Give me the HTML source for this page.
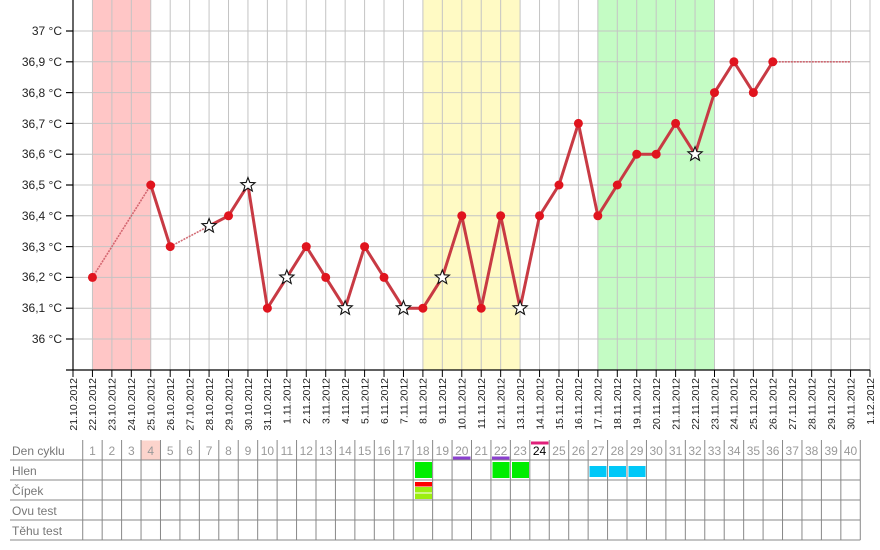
<!DOCTYPE html>
<html>
<head>
<meta charset="utf-8">
<style>
html,body{margin:0;padding:0;background:#fff;}
svg{display:block;}
text{font-family:"Liberation Sans",Arial,sans-serif;}
</style>
</head>
<body>
<svg width="880" height="550" viewBox="0 0 880 550" xmlns="http://www.w3.org/2000/svg">
<!-- bands -->
<rect x="92.44" y="0" width="58.32" height="370" fill="#ffc6c6"/>
<rect x="422.9" y="0" width="97.2" height="370" fill="#fffac4"/>
<rect x="597.85" y="0" width="116.64" height="370" fill="#c4fcc4"/>

<!-- vertical grid -->
<g stroke="#c4c4c4" stroke-width="1">
<line x1="92.44" y1="0" x2="92.44" y2="370"/>
<line x1="111.88" y1="0" x2="111.88" y2="370"/>
<line x1="131.32" y1="0" x2="131.32" y2="370"/>
<line x1="150.76" y1="0" x2="150.76" y2="370"/>
<line x1="170.2" y1="0" x2="170.2" y2="370"/>
<line x1="189.63" y1="0" x2="189.63" y2="370"/>
<line x1="209.07" y1="0" x2="209.07" y2="370"/>
<line x1="228.51" y1="0" x2="228.51" y2="370"/>
<line x1="247.95" y1="0" x2="247.95" y2="370"/>
<line x1="267.39" y1="0" x2="267.39" y2="370"/>
<line x1="286.83" y1="0" x2="286.83" y2="370"/>
<line x1="306.27" y1="0" x2="306.27" y2="370"/>
<line x1="325.71" y1="0" x2="325.71" y2="370"/>
<line x1="345.15" y1="0" x2="345.15" y2="370"/>
<line x1="364.59" y1="0" x2="364.59" y2="370"/>
<line x1="384.02" y1="0" x2="384.02" y2="370"/>
<line x1="403.46" y1="0" x2="403.46" y2="370"/>
<line x1="422.9" y1="0" x2="422.9" y2="370"/>
<line x1="442.34" y1="0" x2="442.34" y2="370"/>
<line x1="461.78" y1="0" x2="461.78" y2="370"/>
<line x1="481.22" y1="0" x2="481.22" y2="370"/>
<line x1="500.66" y1="0" x2="500.66" y2="370"/>
<line x1="520.1" y1="0" x2="520.1" y2="370"/>
<line x1="539.54" y1="0" x2="539.54" y2="370"/>
<line x1="558.98" y1="0" x2="558.98" y2="370"/>
<line x1="578.41" y1="0" x2="578.41" y2="370"/>
<line x1="597.85" y1="0" x2="597.85" y2="370"/>
<line x1="617.29" y1="0" x2="617.29" y2="370"/>
<line x1="636.73" y1="0" x2="636.73" y2="370"/>
<line x1="656.17" y1="0" x2="656.17" y2="370"/>
<line x1="675.61" y1="0" x2="675.61" y2="370"/>
<line x1="695.05" y1="0" x2="695.05" y2="370"/>
<line x1="714.49" y1="0" x2="714.49" y2="370"/>
<line x1="733.93" y1="0" x2="733.93" y2="370"/>
<line x1="753.37" y1="0" x2="753.37" y2="370"/>
<line x1="772.8" y1="0" x2="772.8" y2="370"/>
<line x1="792.24" y1="0" x2="792.24" y2="370"/>
<line x1="811.68" y1="0" x2="811.68" y2="370"/>
<line x1="831.12" y1="0" x2="831.12" y2="370"/>
<line x1="850.56" y1="0" x2="850.56" y2="370"/>
<line x1="870" y1="0" x2="870" y2="370"/>
</g>
<!-- horizontal grid -->
<g stroke="#c4c4c4" stroke-width="1">
<line x1="73" y1="31" x2="870" y2="31"/>
<line x1="73" y1="61.8" x2="870" y2="61.8"/>
<line x1="73" y1="92.6" x2="870" y2="92.6"/>
<line x1="73" y1="123.4" x2="870" y2="123.4"/>
<line x1="73" y1="154.2" x2="870" y2="154.2"/>
<line x1="73" y1="185" x2="870" y2="185"/>
<line x1="73" y1="215.8" x2="870" y2="215.8"/>
<line x1="73" y1="246.6" x2="870" y2="246.6"/>
<line x1="73" y1="277.4" x2="870" y2="277.4"/>
<line x1="73" y1="308.2" x2="870" y2="308.2"/>
<line x1="73" y1="339" x2="870" y2="339"/>
</g>

<!-- axes -->
<g stroke="#000" stroke-width="1.2">
<line x1="73" y1="0" x2="73" y2="370"/>
<line x1="66" y1="370" x2="870" y2="370"/>
<line x1="66" y1="31" x2="73" y2="31"/>
<line x1="66" y1="61.8" x2="73" y2="61.8"/>
<line x1="66" y1="92.6" x2="73" y2="92.6"/>
<line x1="66" y1="123.4" x2="73" y2="123.4"/>
<line x1="66" y1="154.2" x2="73" y2="154.2"/>
<line x1="66" y1="185" x2="73" y2="185"/>
<line x1="66" y1="215.8" x2="73" y2="215.8"/>
<line x1="66" y1="246.6" x2="73" y2="246.6"/>
<line x1="66" y1="277.4" x2="73" y2="277.4"/>
<line x1="66" y1="308.2" x2="73" y2="308.2"/>
<line x1="66" y1="339" x2="73" y2="339"/>
</g>
<g stroke="#000" stroke-width="1">
<line x1="73" y1="370" x2="73" y2="377"/>
<line x1="92.44" y1="370" x2="92.44" y2="377"/>
<line x1="111.88" y1="370" x2="111.88" y2="377"/>
<line x1="131.32" y1="370" x2="131.32" y2="377"/>
<line x1="150.76" y1="370" x2="150.76" y2="377"/>
<line x1="170.2" y1="370" x2="170.2" y2="377"/>
<line x1="189.63" y1="370" x2="189.63" y2="377"/>
<line x1="209.07" y1="370" x2="209.07" y2="377"/>
<line x1="228.51" y1="370" x2="228.51" y2="377"/>
<line x1="247.95" y1="370" x2="247.95" y2="377"/>
<line x1="267.39" y1="370" x2="267.39" y2="377"/>
<line x1="286.83" y1="370" x2="286.83" y2="377"/>
<line x1="306.27" y1="370" x2="306.27" y2="377"/>
<line x1="325.71" y1="370" x2="325.71" y2="377"/>
<line x1="345.15" y1="370" x2="345.15" y2="377"/>
<line x1="364.59" y1="370" x2="364.59" y2="377"/>
<line x1="384.02" y1="370" x2="384.02" y2="377"/>
<line x1="403.46" y1="370" x2="403.46" y2="377"/>
<line x1="422.9" y1="370" x2="422.9" y2="377"/>
<line x1="442.34" y1="370" x2="442.34" y2="377"/>
<line x1="461.78" y1="370" x2="461.78" y2="377"/>
<line x1="481.22" y1="370" x2="481.22" y2="377"/>
<line x1="500.66" y1="370" x2="500.66" y2="377"/>
<line x1="520.1" y1="370" x2="520.1" y2="377"/>
<line x1="539.54" y1="370" x2="539.54" y2="377"/>
<line x1="558.98" y1="370" x2="558.98" y2="377"/>
<line x1="578.41" y1="370" x2="578.41" y2="377"/>
<line x1="597.85" y1="370" x2="597.85" y2="377"/>
<line x1="617.29" y1="370" x2="617.29" y2="377"/>
<line x1="636.73" y1="370" x2="636.73" y2="377"/>
<line x1="656.17" y1="370" x2="656.17" y2="377"/>
<line x1="675.61" y1="370" x2="675.61" y2="377"/>
<line x1="695.05" y1="370" x2="695.05" y2="377"/>
<line x1="714.49" y1="370" x2="714.49" y2="377"/>
<line x1="733.93" y1="370" x2="733.93" y2="377"/>
<line x1="753.37" y1="370" x2="753.37" y2="377"/>
<line x1="772.8" y1="370" x2="772.8" y2="377"/>
<line x1="792.24" y1="370" x2="792.24" y2="377"/>
<line x1="811.68" y1="370" x2="811.68" y2="377"/>
<line x1="831.12" y1="370" x2="831.12" y2="377"/>
<line x1="850.56" y1="370" x2="850.56" y2="377"/>
<line x1="870" y1="370" x2="870" y2="377"/>
</g>

<!-- y labels -->
<g font-size="12" fill="#222" text-anchor="end">
<text x="62" y="35">37 °C</text>
<text x="62" y="66">36,9 °C</text>
<text x="62" y="97">36,8 °C</text>
<text x="62" y="128">36,7 °C</text>
<text x="62" y="158">36,6 °C</text>
<text x="62" y="189">36,5 °C</text>
<text x="62" y="220">36,4 °C</text>
<text x="62" y="251">36,3 °C</text>
<text x="62" y="281">36,2 °C</text>
<text x="62" y="312">36,1 °C</text>
<text x="62" y="343">36 °C</text>
</g>

<!-- x labels -->
<g font-size="10.5" fill="#222" text-anchor="end">
<text transform="translate(76.8,378) rotate(-90)">21.10.2012</text>
<text transform="translate(96.24,378) rotate(-90)">22.10.2012</text>
<text transform="translate(115.68,378) rotate(-90)">23.10.2012</text>
<text transform="translate(135.12,378) rotate(-90)">24.10.2012</text>
<text transform="translate(154.56,378) rotate(-90)">25.10.2012</text>
<text transform="translate(174,378) rotate(-90)">26.10.2012</text>
<text transform="translate(193.43,378) rotate(-90)">27.10.2012</text>
<text transform="translate(212.87,378) rotate(-90)">28.10.2012</text>
<text transform="translate(232.31,378) rotate(-90)">29.10.2012</text>
<text transform="translate(251.75,378) rotate(-90)">30.10.2012</text>
<text transform="translate(271.19,378) rotate(-90)">31.10.2012</text>
<text transform="translate(290.63,378) rotate(-90)">1.11.2012</text>
<text transform="translate(310.07,378) rotate(-90)">2.11.2012</text>
<text transform="translate(329.51,378) rotate(-90)">3.11.2012</text>
<text transform="translate(348.95,378) rotate(-90)">4.11.2012</text>
<text transform="translate(368.39,378) rotate(-90)">5.11.2012</text>
<text transform="translate(387.82,378) rotate(-90)">6.11.2012</text>
<text transform="translate(407.26,378) rotate(-90)">7.11.2012</text>
<text transform="translate(426.7,378) rotate(-90)">8.11.2012</text>
<text transform="translate(446.14,378) rotate(-90)">9.11.2012</text>
<text transform="translate(465.58,378) rotate(-90)">10.11.2012</text>
<text transform="translate(485.02,378) rotate(-90)">11.11.2012</text>
<text transform="translate(504.46,378) rotate(-90)">12.11.2012</text>
<text transform="translate(523.9,378) rotate(-90)">13.11.2012</text>
<text transform="translate(543.34,378) rotate(-90)">14.11.2012</text>
<text transform="translate(562.78,378) rotate(-90)">15.11.2012</text>
<text transform="translate(582.21,378) rotate(-90)">16.11.2012</text>
<text transform="translate(601.65,378) rotate(-90)">17.11.2012</text>
<text transform="translate(621.09,378) rotate(-90)">18.11.2012</text>
<text transform="translate(640.53,378) rotate(-90)">19.11.2012</text>
<text transform="translate(659.97,378) rotate(-90)">20.11.2012</text>
<text transform="translate(679.41,378) rotate(-90)">21.11.2012</text>
<text transform="translate(698.85,378) rotate(-90)">22.11.2012</text>
<text transform="translate(718.29,378) rotate(-90)">23.11.2012</text>
<text transform="translate(737.73,378) rotate(-90)">24.11.2012</text>
<text transform="translate(757.17,378) rotate(-90)">25.11.2012</text>
<text transform="translate(776.6,378) rotate(-90)">26.11.2012</text>
<text transform="translate(796.04,378) rotate(-90)">27.11.2012</text>
<text transform="translate(815.48,378) rotate(-90)">28.11.2012</text>
<text transform="translate(834.92,378) rotate(-90)">29.11.2012</text>
<text transform="translate(854.36,378) rotate(-90)">30.11.2012</text>
<text transform="translate(873.8,378) rotate(-90)">1.12.2012</text>
</g>

<!-- dotted segments -->
<g stroke="#cc5560" stroke-width="1.6" stroke-dasharray="2,1" fill="none" opacity="0.85">
<line x1="92.44" y1="277.4" x2="150.76" y2="185"/>
<line x1="170.2" y1="246.6" x2="209.07" y2="226"/>
<line x1="772.8" y1="61.8" x2="850.56" y2="61.8"/>
</g>

<!-- solid line -->
<g stroke="#c83a44" stroke-width="3" fill="none" stroke-linejoin="round" stroke-linecap="round">
<polyline points="150.76,185 170.2,246.6"/>
<polyline points="209.07,226 228.51,215.8 247.95,185 267.39,308.2 286.83,277.4 306.27,246.6 325.71,277.4 345.15,308.2 364.59,246.6 384.02,277.4 403.46,308.2 422.9,308.2 442.34,277.4 461.78,215.8 481.22,308.2 500.66,215.8 520.1,308.2 539.54,215.8 558.98,185 578.41,123.4 597.85,215.8 617.29,185 636.73,154.2 656.17,154.2 675.61,123.4 695.05,154.2 714.49,92.6 733.93,61.8 753.37,92.6 772.8,61.8"/>
</g>

<!-- dots -->
<g fill="#e0141e">
<circle cx="92.44" cy="277.4" r="4.5"/>
<circle cx="150.76" cy="185" r="4.5"/>
<circle cx="170.2" cy="246.6" r="4.5"/>
<circle cx="228.51" cy="215.8" r="4.5"/>
<circle cx="267.39" cy="308.2" r="4.5"/>
<circle cx="306.27" cy="246.6" r="4.5"/>
<circle cx="325.71" cy="277.4" r="4.5"/>
<circle cx="364.59" cy="246.6" r="4.5"/>
<circle cx="384.02" cy="277.4" r="4.5"/>
<circle cx="422.9" cy="308.2" r="4.5"/>
<circle cx="461.78" cy="215.8" r="4.5"/>
<circle cx="481.22" cy="308.2" r="4.5"/>
<circle cx="500.66" cy="215.8" r="4.5"/>
<circle cx="539.54" cy="215.8" r="4.5"/>
<circle cx="558.98" cy="185" r="4.5"/>
<circle cx="578.41" cy="123.4" r="4.5"/>
<circle cx="597.85" cy="215.8" r="4.5"/>
<circle cx="617.29" cy="185" r="4.5"/>
<circle cx="636.73" cy="154.2" r="4.5"/>
<circle cx="656.17" cy="154.2" r="4.5"/>
<circle cx="675.61" cy="123.4" r="4.5"/>
<circle cx="714.49" cy="92.6" r="4.5"/>
<circle cx="733.93" cy="61.8" r="4.5"/>
<circle cx="753.37" cy="92.6" r="4.5"/>
<circle cx="772.8" cy="61.8" r="4.5"/>
</g>

<!-- stars -->
<g fill="#fff" stroke="#111" stroke-width="1.1" stroke-linejoin="miter">
<path transform="translate(209.07,226)" d="M0,-7.5 L1.881,-2.589 L7.133,-2.318 L3.043,0.989 L4.408,6.068 L0,3.2 L-4.408,6.068 L-3.043,0.989 L-7.133,-2.318 L-1.881,-2.589 Z"/>
<path transform="translate(247.95,185)" d="M0,-7.5 L1.881,-2.589 L7.133,-2.318 L3.043,0.989 L4.408,6.068 L0,3.2 L-4.408,6.068 L-3.043,0.989 L-7.133,-2.318 L-1.881,-2.589 Z"/>
<path transform="translate(286.83,277.4)" d="M0,-7.5 L1.881,-2.589 L7.133,-2.318 L3.043,0.989 L4.408,6.068 L0,3.2 L-4.408,6.068 L-3.043,0.989 L-7.133,-2.318 L-1.881,-2.589 Z"/>
<path transform="translate(345.15,308.2)" d="M0,-7.5 L1.881,-2.589 L7.133,-2.318 L3.043,0.989 L4.408,6.068 L0,3.2 L-4.408,6.068 L-3.043,0.989 L-7.133,-2.318 L-1.881,-2.589 Z"/>
<path transform="translate(403.46,308.2)" d="M0,-7.5 L1.881,-2.589 L7.133,-2.318 L3.043,0.989 L4.408,6.068 L0,3.2 L-4.408,6.068 L-3.043,0.989 L-7.133,-2.318 L-1.881,-2.589 Z"/>
<path transform="translate(442.34,277.4)" d="M0,-7.5 L1.881,-2.589 L7.133,-2.318 L3.043,0.989 L4.408,6.068 L0,3.2 L-4.408,6.068 L-3.043,0.989 L-7.133,-2.318 L-1.881,-2.589 Z"/>
<path transform="translate(520.1,308.2)" d="M0,-7.5 L1.881,-2.589 L7.133,-2.318 L3.043,0.989 L4.408,6.068 L0,3.2 L-4.408,6.068 L-3.043,0.989 L-7.133,-2.318 L-1.881,-2.589 Z"/>
<path transform="translate(695.05,154.2)" d="M0,-7.5 L1.881,-2.589 L7.133,-2.318 L3.043,0.989 L4.408,6.068 L0,3.2 L-4.408,6.068 L-3.043,0.989 L-7.133,-2.318 L-1.881,-2.589 Z"/>
</g>

<!-- ===== TABLE ===== -->
<!-- cell backgrounds / marks -->
<rect x="141.04" y="440.5" width="19.44" height="19" fill="#fcd4cc"/>
<rect x="453" y="456.5" width="17.5" height="3" fill="#8a3fcf"/>
<rect x="492" y="456.5" width="17.5" height="3" fill="#8a3fcf"/>
<rect x="531" y="441.5" width="17.5" height="3" fill="#e0207a"/>

<rect x="415" y="462" width="17" height="16" fill="#00ee00"/>
<rect x="492.5" y="462" width="17" height="16" fill="#00ee00"/>
<rect x="512" y="462" width="17" height="16" fill="#00ee00"/>
<rect x="589.5" y="466" width="17" height="11" fill="#00c8f8"/>
<rect x="609" y="466" width="17" height="11" fill="#00c8f8"/>
<rect x="628.5" y="466" width="17" height="11" fill="#00c8f8"/>

<rect x="415" y="482" width="17" height="4.5" fill="#ff0000"/>
<rect x="415" y="487" width="17" height="5.5" fill="#9cee10"/>
<rect x="415" y="493.5" width="17" height="5.5" fill="#9cee10"/>

<!-- table lines -->
<g stroke="#888" stroke-width="1">
<line x1="10" y1="460" x2="860.3" y2="460"/>
<line x1="10" y1="480" x2="860.3" y2="480"/>
<line x1="10" y1="500" x2="860.3" y2="500"/>
<line x1="10" y1="520" x2="860.3" y2="520"/>
<line x1="10" y1="540" x2="860.3" y2="540"/>
<line x1="82.72" y1="440" x2="82.72" y2="540"/>
<line x1="102.16" y1="440" x2="102.16" y2="540"/>
<line x1="121.6" y1="440" x2="121.6" y2="540"/>
<line x1="141.04" y1="440" x2="141.04" y2="540"/>
<line x1="160.48" y1="440" x2="160.48" y2="540"/>
<line x1="179.92" y1="440" x2="179.92" y2="540"/>
<line x1="199.35" y1="440" x2="199.35" y2="540"/>
<line x1="218.79" y1="440" x2="218.79" y2="540"/>
<line x1="238.23" y1="440" x2="238.23" y2="540"/>
<line x1="257.67" y1="440" x2="257.67" y2="540"/>
<line x1="277.11" y1="440" x2="277.11" y2="540"/>
<line x1="296.55" y1="440" x2="296.55" y2="540"/>
<line x1="315.99" y1="440" x2="315.99" y2="540"/>
<line x1="335.43" y1="440" x2="335.43" y2="540"/>
<line x1="354.87" y1="440" x2="354.87" y2="540"/>
<line x1="374.31" y1="440" x2="374.31" y2="540"/>
<line x1="393.74" y1="440" x2="393.74" y2="540"/>
<line x1="413.18" y1="440" x2="413.18" y2="540"/>
<line x1="432.62" y1="440" x2="432.62" y2="540"/>
<line x1="452.06" y1="440" x2="452.06" y2="540"/>
<line x1="471.5" y1="440" x2="471.5" y2="540"/>
<line x1="490.94" y1="440" x2="490.94" y2="540"/>
<line x1="510.38" y1="440" x2="510.38" y2="540"/>
<line x1="529.82" y1="440" x2="529.82" y2="540"/>
<line x1="549.26" y1="440" x2="549.26" y2="540"/>
<line x1="568.7" y1="440" x2="568.7" y2="540"/>
<line x1="588.13" y1="440" x2="588.13" y2="540"/>
<line x1="607.57" y1="440" x2="607.57" y2="540"/>
<line x1="627.01" y1="440" x2="627.01" y2="540"/>
<line x1="646.45" y1="440" x2="646.45" y2="540"/>
<line x1="665.89" y1="440" x2="665.89" y2="540"/>
<line x1="685.33" y1="440" x2="685.33" y2="540"/>
<line x1="704.77" y1="440" x2="704.77" y2="540"/>
<line x1="724.21" y1="440" x2="724.21" y2="540"/>
<line x1="743.65" y1="440" x2="743.65" y2="540"/>
<line x1="763.09" y1="440" x2="763.09" y2="540"/>
<line x1="782.52" y1="440" x2="782.52" y2="540"/>
<line x1="801.96" y1="440" x2="801.96" y2="540"/>
<line x1="821.4" y1="440" x2="821.4" y2="540"/>
<line x1="840.84" y1="440" x2="840.84" y2="540"/>
<line x1="860.28" y1="440" x2="860.28" y2="540"/>
</g>

<!-- row labels -->
<g font-size="12" fill="#777">
<text x="12" y="455">Den cyklu</text>
<text x="12" y="475">Hlen</text>
<text x="12" y="495">Čípek</text>
<text x="12" y="515">Ovu test</text>
<text x="12" y="535">Těhu test</text>
</g>

<!-- cycle day numbers -->
<g font-size="12" fill="#999" text-anchor="middle">
<text x="92.44" y="455">1</text>
<text x="111.88" y="455">2</text>
<text x="131.32" y="455">3</text>
<text x="150.76" y="455">4</text>
<text x="170.2" y="455">5</text>
<text x="189.63" y="455">6</text>
<text x="209.07" y="455">7</text>
<text x="228.51" y="455">8</text>
<text x="247.95" y="455">9</text>
<text x="267.39" y="455">10</text>
<text x="286.83" y="455">11</text>
<text x="306.27" y="455">12</text>
<text x="325.71" y="455">13</text>
<text x="345.15" y="455">14</text>
<text x="364.59" y="455">15</text>
<text x="384.02" y="455">16</text>
<text x="403.46" y="455">17</text>
<text x="422.9" y="455">18</text>
<text x="442.34" y="455">19</text>
<text x="461.78" y="455">20</text>
<text x="481.22" y="455">21</text>
<text x="500.66" y="455">22</text>
<text x="520.1" y="455">23</text>
<text x="539.54" y="455" fill="#000">24</text>
<text x="558.98" y="455">25</text>
<text x="578.41" y="455">26</text>
<text x="597.85" y="455">27</text>
<text x="617.29" y="455">28</text>
<text x="636.73" y="455">29</text>
<text x="656.17" y="455">30</text>
<text x="675.61" y="455">31</text>
<text x="695.05" y="455">32</text>
<text x="714.49" y="455">33</text>
<text x="733.93" y="455">34</text>
<text x="753.37" y="455">35</text>
<text x="772.8" y="455">36</text>
<text x="792.24" y="455">37</text>
<text x="811.68" y="455">38</text>
<text x="831.12" y="455">39</text>
<text x="850.56" y="455">40</text>
</g>
</svg>
</body>
</html>
